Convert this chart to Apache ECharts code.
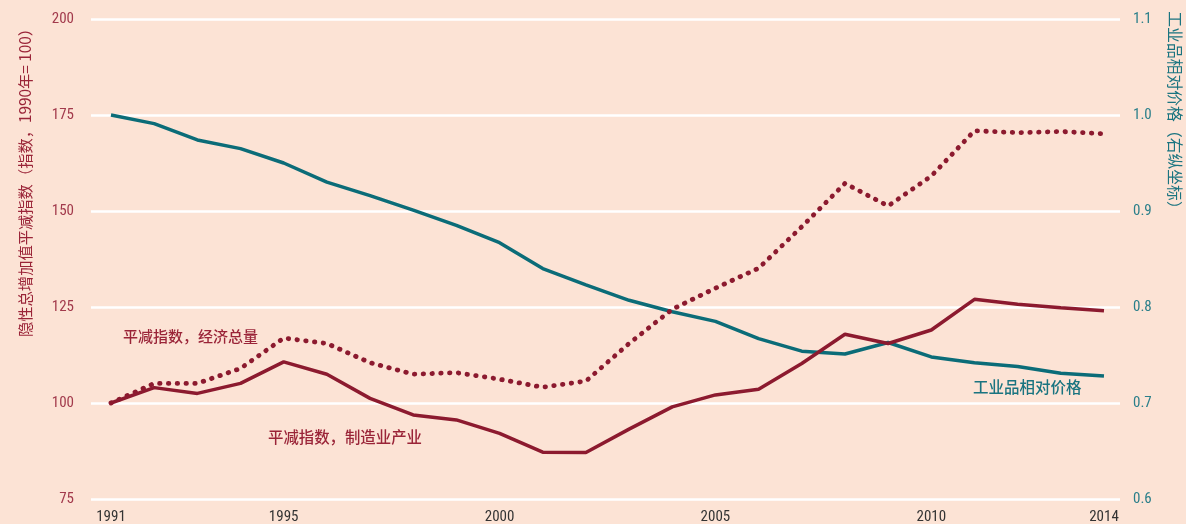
<!DOCTYPE html>
<html>
<head>
<meta charset="utf-8">
<script src="https://cdn.jsdelivr.net/npm/echarts@6/dist/echarts.min.js"></script>
<style>
  html, body { margin: 0; padding: 0; background: #fce3d5; }
  #chart { width: 1186px; height: 524px; }
</style>
</head>
<body>
<div id="chart"></div>
<script>
'use strict';

var years = [1991, 1992, 1993, 1994, 1995, 1996, 1997, 1998, 1999, 2000, 2001, 2002,
  2003, 2004, 2005, 2006, 2007, 2008, 2009, 2010, 2011, 2012, 2013, 2014];
var xTickLabels = [1991, 1995, 2000, 2005, 2010, 2014];

// 平减指数，经济总量 (left axis, dotted)
var deflatorTotal = [100, 105.1, 105.1, 109.0, 116.9, 115.5, 110.5, 107.5, 107.9, 106.2, 104.1, 105.7,
  115.5, 124.4, 129.9, 135.1, 145.9, 157.2, 151.3, 159.1, 170.9, 170.4, 170.7, 170.1];
// 平减指数，制造业产业 (left axis, solid)
var deflatorManuf = [100, 104.0, 102.5, 105.1, 110.7, 107.5, 101.2, 96.9, 95.6, 92.1, 87.2, 87.1,
  93.2, 99.0, 102.1, 103.6, 110.3, 117.9, 115.5, 119.0, 127.0, 125.7, 124.8, 124.0];
// 工业品相对价格 (right axis)
var relPrice = [1.0, 0.991, 0.974, 0.965, 0.950, 0.930, 0.916, 0.901, 0.885, 0.867, 0.840, 0.823,
  0.807, 0.795, 0.785, 0.767, 0.754, 0.751, 0.763, 0.748, 0.742, 0.738, 0.731, 0.728];

var maroon = '#8c1a2f';
var teal = '#0b6c78';
var font = '"Liberation Sans Narrow", "Roboto Condensed", "DejaVu Sans Condensed", sans-serif';
var cjk = '"Noto Sans CJK SC", sans-serif';

function pairs(vals) {
  return vals.map(function (v, i) { return [years[i], v]; });
}

var chart = echarts.init(document.getElementById('chart'));
var option = {
  backgroundColor: '#fce3d5',
  animation: false,
  grid: { left: 91, right: 66, top: 19, bottom: 25, outerBoundsMode: 'none', containLabel: false },
  xAxis: {
    type: 'value',
    min: 1990.537,
    max: 2014.371,
    splitLine: { show: false },
    axisLine: { show: false },
    axisTick: { show: false },
    axisLabel: {
      customValues: xTickLabels,
      color: '#333',
      fontSize: 15,
      fontFamily: font,
      margin: 11,
      formatter: function (v) { return String(v); }
    }
  },
  yAxis: [{
    type: 'value',
    min: 75,
    max: 200,
    interval: 25,
    axisLine: { show: false },
    axisTick: { show: false },
    splitLine: { lineStyle: { color: '#ffffff', width: 2.5 } },
    axisLabel: { color: '#a23a4c', fontSize: 15, fontFamily: font, margin: 17 }
  }, {
    type: 'value',
    min: 0.6,
    max: 1.1,
    interval: 0.1,
    position: 'right',
    axisLine: { show: false },
    axisTick: { show: false },
    splitLine: { show: false },
    axisLabel: {
      color: '#2a7f8a', fontSize: 15, fontFamily: font, margin: 13,
      formatter: function (v) { return v.toFixed(1); }
    }
  }],
  series: [{
    name: '平减指数，经济总量',
    type: 'line',
    data: pairs(deflatorTotal),
    symbol: 'none',
    lineStyle: { color: maroon, width: 4.8, type: [0.5, 8.3], cap: 'round' },
    z: 3
  }, {
    name: '平减指数，制造业产业',
    type: 'line',
    data: pairs(deflatorManuf),
    symbol: 'none',
    lineStyle: { color: maroon, width: 3.5 },
    z: 3
  }, {
    name: '工业品相对价格',
    type: 'line',
    yAxisIndex: 1,
    data: pairs(relPrice),
    symbol: 'none',
    lineStyle: { color: teal, width: 3.5 },
    z: 2
  }],
  graphic: [{
    type: 'text', left: 123, top: 329,
    style: { text: '平减指数，经济总量', fill: '#9a2438', font: '500 15px ' + cjk }
  }, {
    type: 'text', left: 268, top: 429,
    style: { text: '平减指数，制造业产业', fill: '#9a2438', font: '500 15.4px ' + cjk }
  }, {
    type: 'text', left: 973, top: 379,
    style: { text: '工业品相对价格', fill: '#1a7480', font: '500 15.5px ' + cjk }
  }, {
    type: 'text', x: 25, y: 179, rotation: Math.PI / 2,
    style: {
      text: '隐性总增加值平减指数（指数，1990年= 100）', fill: '#9a2438',
      font: '15.3px ' + cjk, align: 'center', verticalAlign: 'middle'
    }
  }, {
    type: 'text', x: 1175, y: 114, rotation: -Math.PI / 2,
    style: {
      text: '工业品相对价格（右纵坐标）', fill: '#1a7480',
      font: '15.8px ' + cjk, align: 'center', verticalAlign: 'middle'
    }
  }]
};
chart.setOption(option);
</script>
</body>
</html>
